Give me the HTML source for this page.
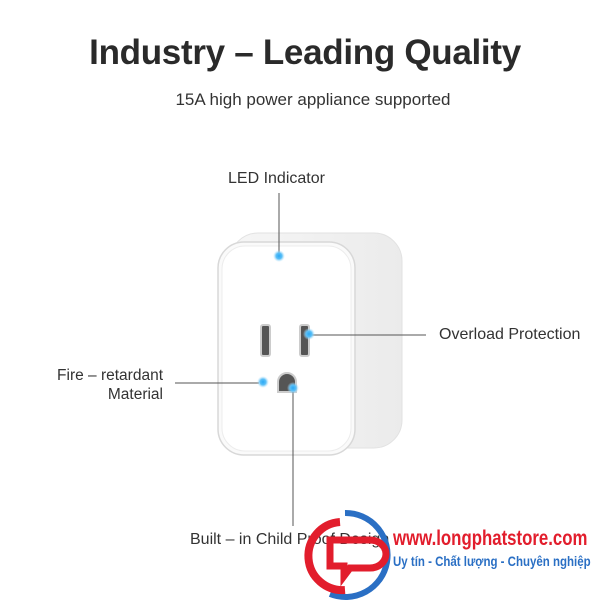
<!DOCTYPE html>
<html><head><style>
body{margin:0;width:600px;height:600px;background:#fff;position:relative;overflow:hidden;font-family:"Liberation Sans",sans-serif;color:#333}
.t{position:absolute;white-space:nowrap}
</style></head><body>
<div class="t" style="left:0;width:610px;text-align:center;top:33px;font-size:35px;font-weight:bold;color:#2a2a2a;letter-spacing:-0.3px">Industry – Leading Quality</div>
<div class="t" style="left:0;width:626px;text-align:center;top:90px;font-size:17px;color:#333">15A high power appliance supported</div>
<div class="t" style="left:228px;top:170px;font-size:16px">LED Indicator</div>
<div class="t" style="left:439px;top:326px;font-size:16px">Overload Protection</div>
<div class="t" style="left:30px;width:133px;text-align:right;top:366px;font-size:15.5px;line-height:19px">Fire – retardant<br>Material</div>
<div class="t" style="left:190px;top:531px;font-size:16px">Built – in Child Proof Design</div>
<svg width="600" height="600" style="position:absolute;left:0;top:0">
<defs><linearGradient id="s" x1="0" x2="1"><stop offset="0" stop-color="#f6f6f6"/><stop offset="1" stop-color="#ebebeb"/></linearGradient>
<radialGradient id="g"><stop offset="0" stop-color="#2aa8f5"/><stop offset="0.5" stop-color="#5cc0f7"/><stop offset="1" stop-color="#bfe6fb" stop-opacity="0"/></radialGradient></defs>
<rect x="230" y="233" width="172" height="215" rx="28" fill="url(#s)" stroke="#e2e2e2"/>
<rect x="218" y="242" width="137" height="213" rx="26" fill="#fafafa" stroke="#d8d8d8" stroke-width="1.5"/>
<rect x="222" y="246" width="129" height="205" rx="23" fill="#fff" stroke="#ececec"/>
<rect x="261" y="325" width="9" height="31" rx="2" fill="#555" stroke="#ccc" stroke-width="2"/>
<rect x="300" y="325" width="9" height="31" rx="2" fill="#555" stroke="#ccc" stroke-width="2"/>
<path d="M278 392 V382 a9 9 0 0 1 18 0 V392 Z" fill="#555" stroke="#ccc" stroke-width="2"/>
<g stroke="#555" stroke-width="1"><line x1="279" y1="193" x2="279" y2="253"/><line x1="312" y1="335" x2="426" y2="335"/><line x1="175" y1="383" x2="259" y2="383"/><line x1="293" y1="392" x2="293" y2="526"/></g>
<g fill="url(#g)"><circle cx="279" cy="256" r="6"/><circle cx="309" cy="334" r="6"/><circle cx="263" cy="382" r="6"/><circle cx="293" cy="388" r="6"/></g>
<path d="M345 513 A42 42 0 1 1 330 594" fill="none" stroke="#2a6fc4" stroke-width="6"/>
<path d="M340 522 A34 34 0 0 0 345 590" fill="none" stroke="#e21d2c" stroke-width="8"/>
<path d="M330 540 H370 a16 14 0 0 1 0 28 H350 l-6 8 V566 H330 Z" fill="none" stroke="#e21d2c" stroke-width="7"/>
</svg>
<div class="t" style="left:393px;top:527px;font-size:21px;font-weight:bold;color:#e21d2c;transform:scaleX(0.8);transform-origin:left">www.longphatstore.com</div>
<div class="t" style="left:393px;top:553px;font-size:14px;font-weight:bold;color:#2a6fc4;transform:scaleX(0.82);transform-origin:left">Uy tín - Chất lượng - Chuyên nghiệp</div>
</body></html>
